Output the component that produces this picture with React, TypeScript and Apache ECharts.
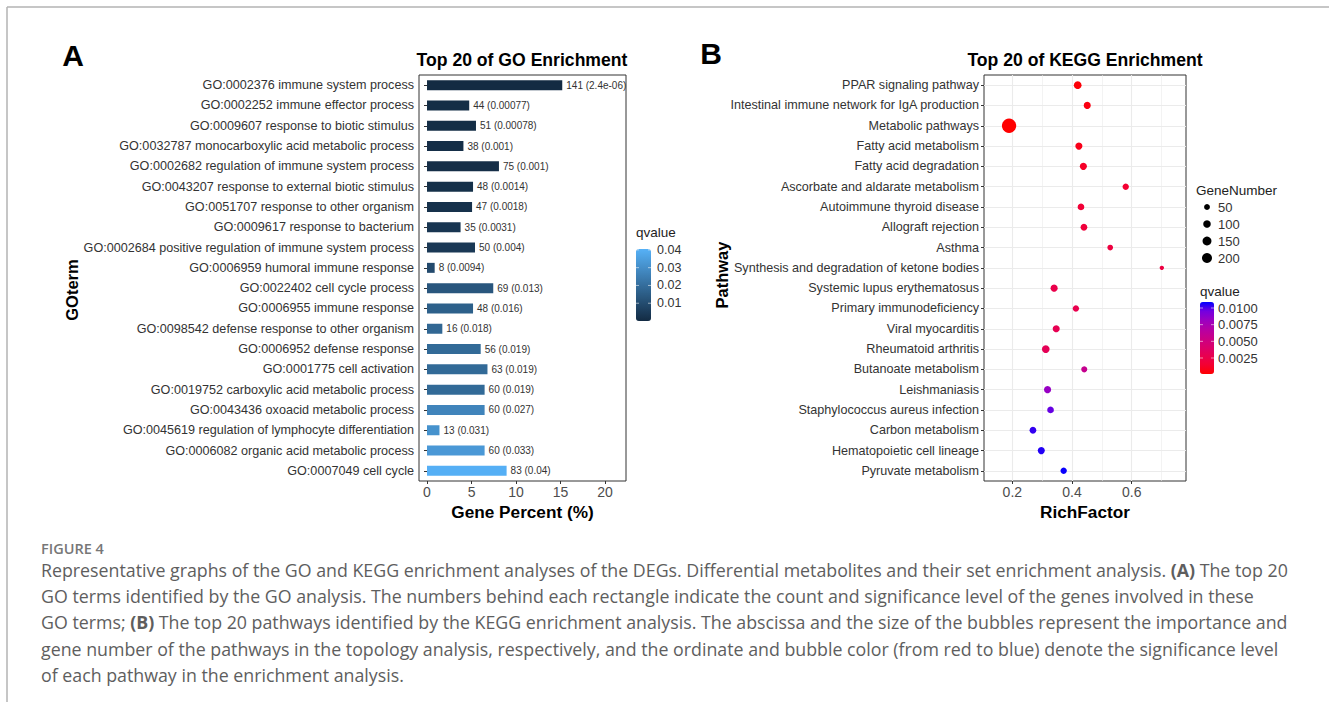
import React, { useEffect, useRef } from 'react';
import * as echarts from 'echarts';

const goTerms = [
  'GO:0002376 immune system process',
  'GO:0002252 immune effector process',
  'GO:0009607 response to biotic stimulus',
  'GO:0032787 monocarboxylic acid metabolic process',
  'GO:0002682 regulation of immune system process',
  'GO:0043207 response to external biotic stimulus',
  'GO:0051707 response to other organism',
  'GO:0009617 response to bacterium',
  'GO:0002684 positive regulation of immune system process',
  'GO:0006959 humoral immune response',
  'GO:0022402 cell cycle process',
  'GO:0006955 immune response',
  'GO:0098542 defense response to other organism',
  'GO:0006952 defense response',
  'GO:0001775 cell activation',
  'GO:0019752 carboxylic acid metabolic process',
  'GO:0043436 oxoacid metabolic process',
  'GO:0045619 regulation of lymphocyte differentiation',
  'GO:0006082 organic acid metabolic process',
  'GO:0007049 cell cycle',
];
const goCounts = [141, 44, 51, 38, 75, 48, 47, 35, 50, 8, 69, 48, 16, 56, 63, 60, 60, 13, 60, 83];
const goQLabels = ['2.4e-06', '0.00077', '0.00078', '0.001', '0.001', '0.0014', '0.0018', '0.0031', '0.004', '0.0094', '0.013', '0.016', '0.018', '0.019', '0.019', '0.019', '0.027', '0.031', '0.033', '0.04'];
const goPercent = [15.19, 4.74, 5.5, 4.09, 8.08, 5.17, 5.06, 3.77, 5.39, 0.86, 7.44, 5.17, 1.72, 6.03, 6.79, 6.47, 6.47, 1.4, 6.47, 8.94];
const goXTicks = [0, 5, 10, 15, 20];
const goQTicks = [0.01, 0.02, 0.03, 0.04];

const keggTerms = [
  'PPAR signaling pathway',
  'Intestinal immune network for IgA production',
  'Metabolic pathways',
  'Fatty acid metabolism',
  'Fatty acid degradation',
  'Ascorbate and aldarate metabolism',
  'Autoimmune thyroid disease',
  'Allograft rejection',
  'Asthma',
  'Synthesis and degradation of ketone bodies',
  'Systemic lupus erythematosus',
  'Primary immunodeficiency',
  'Viral myocarditis',
  'Rheumatoid arthritis',
  'Butanoate metabolism',
  'Leishmaniasis',
  'Staphylococcus aureus infection',
  'Carbon metabolism',
  'Hematopoietic cell lineage',
  'Pyruvate metabolism',
];
const keggRich = [0.419, 0.451, 0.189, 0.423, 0.438, 0.58, 0.43, 0.44, 0.528, 0.701, 0.34, 0.413, 0.347, 0.312, 0.441, 0.318, 0.328, 0.269, 0.297, 0.372];
const keggGenes = [105, 84, 465, 84, 84, 63, 72, 72, 45, 20, 84, 63, 84, 105, 55, 84, 72, 72, 84, 63];
const keggQ = [0.0003, 0.0006, 0.0001, 0.0008, 0.0012, 0.0015, 0.0017, 0.0019, 0.0021, 0.0022, 0.0026, 0.0027, 0.0029, 0.0031, 0.0058, 0.0083, 0.0097, 0.0103, 0.0105, 0.0108];
const keggXTicks = [0.2, 0.4, 0.6];
const keggXMinor = [0.3, 0.5, 0.7];
const geneLegend = [50, 100, 150, 200];
const keggQTicks = [0.01, 0.0075, 0.005, 0.0025];
const keggQLabels = ['0.0100', '0.0075', '0.0050', '0.0025'];

const FONT = '"Liberation Sans", Arial, Helvetica, sans-serif';
const CAP_FONT = '"Open Sans", "Noto Sans", sans-serif';

const sizeOf = (v: number) => 1.8 + 0.58 * Math.sqrt(v);

const redBlue = ['#FF0000', '#F40031', '#E80050', '#DA006C', '#C90088', '#B500A5', '#9A00C2', '#7300E0', '#0000FF'];

const captionLines = [
  'Representative graphs of the GO and KEGG enrichment analyses of the DEGs. Differential metabolites and their set enrichment analysis. {b|(A)} The top 20',
  'GO terms identified by the GO analysis. The numbers behind each rectangle indicate the count and significance level of the genes involved in these',
  'GO terms; {b|(B)} The top 20 pathways identified by the KEGG enrichment analysis. The abscissa and the size of the bubbles represent the importance and',
  'gene number of the pathways in the topology analysis, respectively, and the ordinate and bubble color (from red to blue) denote the significance level',
  'of each pathway in the enrichment analysis.',
];

function buildOption() {
  const LQ = { top: 249, h: 72, min: 0, max: 0.0405 };
  const RQ = { top: 302, h: 72, min: 0.0001, max: 0.0109 };
  const txt = (x: number, y: number, text: string, extra: any = {}) => ({
    type: 'text', x, y, silent: true,
    style: { text, fontFamily: FONT, fontSize: 13.5, fill: '#222', textVerticalAlign: 'middle', ...extra },
  });
  const graphics: any[] = [
    { type: 'line', silent: true, shape: { x1: 7, y1: 7, x2: 1329, y2: 7 }, style: { stroke: '#b3b3b3', lineWidth: 1.5 } },
    { type: 'line', silent: true, shape: { x1: 7, y1: 7, x2: 7, y2: 702 }, style: { stroke: '#b3b3b3', lineWidth: 1.5 } },
    txt(73, 55, 'A', { fontSize: 30, fontWeight: 'bold', fill: '#000', textAlign: 'center' }),
    txt(711, 53, 'B', { fontSize: 30, fontWeight: 'bold', fill: '#000', textAlign: 'center' }),
    txt(522, 60, 'Top 20 of GO Enrichment', { fontSize: 17.6, fontWeight: 'bold', fill: '#000', textAlign: 'center' }),
    txt(1085, 60, 'Top 20 of KEGG Enrichment', { fontSize: 17.6, fontWeight: 'bold', fill: '#000', textAlign: 'center' }),
    txt(522.5, 512, 'Gene Percent (%)', { fontSize: 17.2, fontWeight: 'bold', fill: '#000', textAlign: 'center' }),
    txt(1085, 512, 'RichFactor', { fontSize: 17.2, fontWeight: 'bold', fill: '#000', textAlign: 'center' }),
    { type: 'text', x: 72, y: 290, rotation: Math.PI / 2, silent: true,
      style: { text: 'GOterm', fontFamily: FONT, fontSize: 16.5, fontWeight: 'bold', fill: '#000', textAlign: 'center', textVerticalAlign: 'middle' } },
    { type: 'text', x: 722, y: 275, rotation: Math.PI / 2, silent: true,
      style: { text: 'Pathway', fontFamily: FONT, fontSize: 16.5, fontWeight: 'bold', fill: '#000', textAlign: 'center', textVerticalAlign: 'middle' } },
    txt(636, 232, 'qvalue'),
    txt(1196, 190, 'GeneNumber'),
    txt(1200, 291, 'qvalue'),
  ];
  goQTicks.forEach((v) => {
    const y = LQ.top + ((LQ.max - v) / (LQ.max - LQ.min)) * LQ.h;
    graphics.push(txt(657, y, String(v), { fontSize: 12.5, fill: '#333' }));
    graphics.push({ type: 'line', silent: true, z: 100, shape: { x1: 636, y1: y, x2: 639, y2: y }, style: { stroke: '#fff', lineWidth: 0.8, opacity: 0.7 } });
    graphics.push({ type: 'line', silent: true, z: 100, shape: { x1: 648, y1: y, x2: 651, y2: y }, style: { stroke: '#fff', lineWidth: 0.8, opacity: 0.7 } });
  });
  keggQTicks.forEach((v, i) => {
    const y = RQ.top + ((RQ.max - v) / (RQ.max - RQ.min)) * RQ.h;
    graphics.push(txt(1218, y, keggQLabels[i], { fontSize: 13, fill: '#333' }));
    graphics.push({ type: 'line', silent: true, z: 100, shape: { x1: 1200, y1: y, x2: 1203, y2: y }, style: { stroke: '#fff', lineWidth: 0.8, opacity: 0.7 } });
    graphics.push({ type: 'line', silent: true, z: 100, shape: { x1: 1211, y1: y, x2: 1214, y2: y }, style: { stroke: '#fff', lineWidth: 0.8, opacity: 0.7 } });
  });
  geneLegend.forEach((v, i) => {
    const y = 207 + i * 17;
    graphics.push({ type: 'circle', silent: true, shape: { cx: 1207, cy: y, r: sizeOf(v) / 2 }, style: { fill: '#000' } });
    graphics.push(txt(1218, y, String(v), { fontSize: 13, fill: '#333' }));
  });
  graphics.push({ type: 'text', x: 41, y: 548, silent: true,
    style: { text: 'FIGURE 4', fontFamily: CAP_FONT, fontSize: 14.5, fontWeight: 600, fill: '#777', textVerticalAlign: 'middle' } });
  captionLines.forEach((line, i) => {
    graphics.push({
      type: 'text', x: 41, y: 570 + i * 26.2, silent: true,
      style: {
        text: line, fontFamily: CAP_FONT, fontSize: 17.8, fill: '#5e5e5e', textVerticalAlign: 'middle',
        rich: { b: { fontFamily: CAP_FONT, fontSize: 17.8, fontWeight: 'bold', fill: '#5e5e5e' } },
      },
    });
  });

  const gridLines: any[] = [
    ...keggTerms.map((t) => ({ yAxis: t, lineStyle: { width: 1.1 } })),
    ...keggXTicks.map((v) => ({ xAxis: v, lineStyle: { width: 1.1 } })),
    ...keggXMinor.map((v) => ({ xAxis: v, lineStyle: { width: 0.6 } })),
  ];

  return {
    animation: false,
    backgroundColor: '#fff',
    textStyle: { fontFamily: FONT },
    grid: [
      { left: 419, top: 75, width: 207, height: 406, show: true, borderColor: '#333', borderWidth: 1, backgroundColor: 'transparent', containLabel: false },
      { left: 984, top: 75, width: 202, height: 406, show: true, borderColor: '#333', borderWidth: 1, backgroundColor: 'transparent', containLabel: false },
    ],
    xAxis: [
      {
        type: 'value', gridIndex: 0, min: -0.9, max: 22.35,
        axisLine: { show: false },
        axisTick: { show: true, length: 3, lineStyle: { color: '#333' }, customValues: goXTicks },
        axisLabel: { customValues: goXTicks, fontSize: 14, color: '#4D4D4D', margin: 4, fontFamily: FONT },
        splitLine: { show: false },
      },
      {
        type: 'value', gridIndex: 1, min: 0.105, max: 0.782,
        axisLine: { show: false },
        axisTick: { show: true, length: 3, lineStyle: { color: '#333' }, customValues: keggXTicks },
        axisLabel: { customValues: keggXTicks, fontSize: 14, color: '#4D4D4D', margin: 4, fontFamily: FONT, formatter: (v: number) => v.toFixed(1) },
        splitLine: { show: false },
      },
    ],
    yAxis: [
      {
        type: 'category', gridIndex: 0, data: goTerms, inverse: true,
        axisLine: { show: false },
        axisTick: { show: true, length: 3, alignWithLabel: true, lineStyle: { color: '#333' } },
        axisLabel: { fontSize: 12.6, color: '#333', margin: 5, fontFamily: FONT },
        splitLine: { show: false },
      },
      {
        type: 'category', gridIndex: 1, data: keggTerms, inverse: true,
        axisLine: { show: false },
        axisTick: { show: true, length: 3, alignWithLabel: true, lineStyle: { color: '#333' } },
        axisLabel: { fontSize: 12.6, color: '#333', margin: 5, fontFamily: FONT },
        splitLine: { show: false },
      },
    ],
    visualMap: [
      {
        type: 'continuous', seriesIndex: 0, dimension: 2, min: 0, max: 0.0405,
        inRange: { color: ['#132B43', '#56B1F7'] },
        left: 636, top: 249, itemWidth: 15, itemHeight: 72, padding: 0,
        calculable: false, hoverLink: false, text: null, showLabel: false,
      },
      {
        type: 'continuous', seriesIndex: 1, dimension: 3, min: 0.0001, max: 0.0109,
        inRange: { color: redBlue },
        left: 1200, top: 302, itemWidth: 14, itemHeight: 72, padding: 0,
        calculable: false, hoverLink: false, text: null, showLabel: false,
      },
    ],
    series: [
      {
        type: 'bar', xAxisIndex: 0, yAxisIndex: 0,
        data: goPercent.map((v, i) => [v, i, Number(goQLabels[i])]),
        encode: { x: 0, y: 1 },
        barWidth: 10,
        label: {
          show: true, position: 'right', distance: 4, fontSize: 10, color: '#333', fontFamily: FONT,
          formatter: (p: any) => `${goCounts[p.dataIndex]} (${goQLabels[p.dataIndex]})`,
        },
        silent: true,
      },
      {
        type: 'scatter', xAxisIndex: 1, yAxisIndex: 1, z: 3,
        data: keggRich.map((x, i) => [x, i, keggGenes[i], keggQ[i]]),
        encode: { x: 0, y: 1 },
        symbolSize: (val: number[]) => sizeOf(val[2]),
        itemStyle: { opacity: 1 },
        silent: true,
        markLine: {
          silent: true, z: 1, symbol: ['none', 'none'], label: { show: false },
          lineStyle: { color: '#EBEBEB', type: 'solid', width: 1 },
          emphasis: { disabled: true },
          data: gridLines,
        },
      },
    ],
    graphic: graphics,
  };
}

export default function App() {
  const ref = useRef<HTMLDivElement>(null);
  useEffect(() => {
    if (!ref.current) return;
    const chart = echarts.init(ref.current, null, { renderer: 'svg' });
    chart.setOption(buildOption() as any);
    return () => chart.dispose();
  }, []);
  return (
    <div
      ref={ref}
      style={{ position: 'fixed', left: 0, top: 0, width: 1329, height: 702, background: '#fff' }}
    />
  );
}
